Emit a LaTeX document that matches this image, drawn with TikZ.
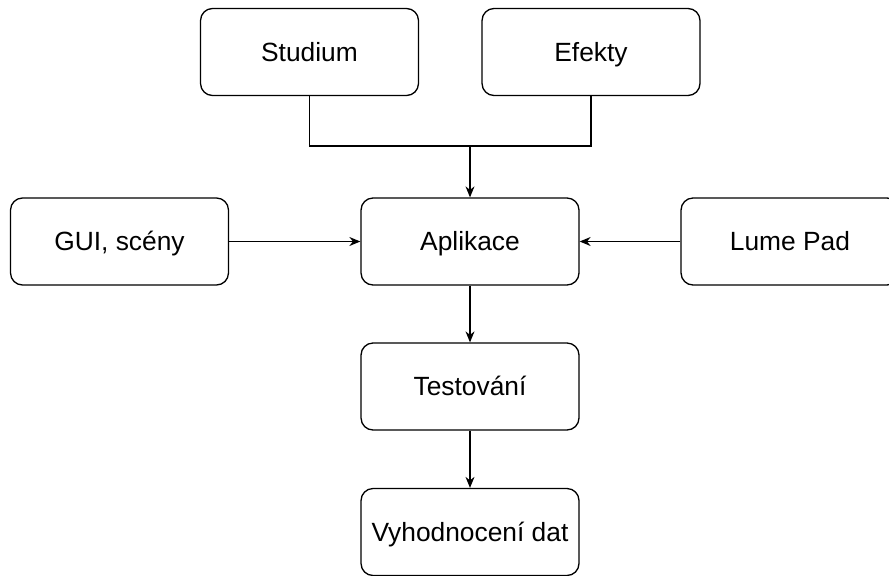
\documentclass[tikz,border=0pt]{standalone}
\usepackage{fontspec}
\setmainfont{Liberation Sans}
\usetikzlibrary{arrows.meta, positioning}

\begin{document}
\begin{tikzpicture}[x=0.02cm, y=-0.02cm, >={Stealth[length=2.2mm, width=1.8mm]},
		blok/.style={draw, rounded corners=2.4mm, line width=0.75pt, minimum width=4.36cm, minimum height=1.74cm, font=\fontsize{15}{18}\selectfont, inner sep=0pt, text height=10.7pt, text depth=0pt},
		spoj/.style={line width=0.75pt}]
		\useasboundingbox (0,0) rectangle (889,575);
		
		% Bloky
		\node[blok] (studium) at (309.5,52) {Studium};
		\node[blok] (efekty) at (591,52) {Efekty};
		\node[blok] (gui) at (119.5,241.5) {GUI, scény};
		\node[blok] (aplikace) at (470,241.5) {Aplikace};
		\node[blok] (lume) at (790,241.5) {Lume Pad};
		\node[blok] (testovani) at (470,386.5) {Testování};
		\node[blok] (vyhodnoceni) at (470,532) {Vyhodnocení dat};
		
		% Spoje
		\coordinate (spojeni) at (470,146);
		\draw[spoj] (studium.south) |- (spojeni) -| (efekty.south);
		\draw[spoj,->] (spojeni) -- (aplikace.north);
		\draw[spoj,->] (gui) -- (aplikace);
		\draw[spoj,->] (lume) -- (aplikace);
		\draw[spoj,->] (aplikace) -- (testovani);
		\draw[spoj,->] (testovani) -- (vyhodnoceni);
\end{tikzpicture}
\end{document}
